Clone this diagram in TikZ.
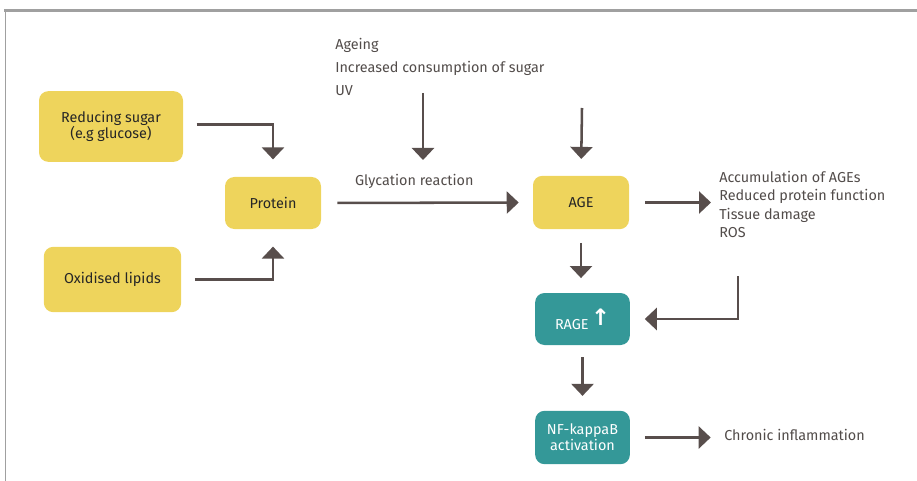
\documentclass[tikz,border=0pt]{standalone}
\usepackage{fontspec}
\setmainfont{Fira Sans}
\newfontfamily\symfont{DejaVu Sans}
\usetikzlibrary{arrows.meta, positioning}
\definecolor{agyellow}{RGB}{238, 212, 92}
\definecolor{agteal}{RGB}{52, 152, 152}
\definecolor{agarrow}{RGB}{88, 78, 76}
\definecolor{agtext}{RGB}{82, 76, 74}
\definecolor{agframe}{RGB}{160, 160, 160}

\tikzset{
  ybox/.style={fill=agyellow, rounded corners=7pt, text=black!85, align=center, inner sep=0pt, font=\fontsize{10.8}{12}\selectfont},
  tbox/.style={fill=agteal, rounded corners=7pt, text=white, align=center, inner sep=0pt, font=\fontsize{10.8}{12}\selectfont},
  arr/.style={draw=agarrow, line width=1.9pt, -{Triangle[width=16.5pt,length=9pt]}},
  lbl/.style={text=agtext, align=left, inner sep=0pt, font=\fontsize{10.8}{12}\selectfont}
}

\begin{document}
\begin{tikzpicture}[x=0.75pt, y=-0.75pt]
\useasboundingbox (0,0) rectangle (917,481);

% frame
\draw[agframe, line width=1.6pt] (4,10.5) -- (917,10.5);
\draw[agframe, line width=0.6pt] (5,10) -- (5,481);

% boxes
\node[ybox, minimum width=108pt, minimum height=53pt] (sugar) at (111,126.5) {Reducing sugar\\(e.g glucose)};
\node[ybox, minimum width=103pt, minimum height=49pt] (lipids) at (112.5,279.5) {Oxidised lipids};
\node[ybox, minimum width=72pt, minimum height=39pt] (protein) at (273,203) {Protein};
\node[ybox, minimum width=72pt, minimum height=40pt] (age) at (581,202.5) {AGE};
\node[tbox, minimum width=71pt, minimum height=39pt] (rage) at (582.5,319) {\raisebox{-3pt}{RAGE}\,{\symfont\bfseries\fontsize{17}{17}\selectfont ↑}};
\node[tbox, minimum width=71pt, minimum height=40pt] (nfkb) at (582.5,437.5) {NF-kappaB\\activation};

% texts
\node[lbl, anchor=west, font=\fontsize{10.8}{17.6}\selectfont] (causes) at (335,67) {Ageing\\Increased consumption of sugar\\UV};
\node[lbl, anchor=west, font=\fontsize{10.8}{13.7}\selectfont] (effects) at (719,204.5) {Accumulation of AGEs\\Reduced protein function\\Tissue damage\\ROS};
\node[lbl, anchor=west] (chronic) at (724,435) {Chronic inflammation};

\coordinate (causesEnd) at (423,93);
\coordinate (glycIn) at (423,160);
\coordinate (ageIn) at (582,108);
\coordinate (back) at (738,276);

% arrows
\draw[arr, shorten <=10pt, shorten >=13pt] ([yshift=1.5pt]sugar.east) -| (protein.north);
\draw[arr, shorten <=10pt, shorten >=13pt] (lipids.east) -| (protein.south);
\draw[arr, shorten <=12pt, shorten >=10.5pt] (protein.east) -- (age.west)
  node[lbl, above=10pt, pos=0.44] (glyc) {Glycation reaction};
\draw[arr] (causesEnd) -- (glycIn);
\draw[arr, shorten >=12.5pt] (ageIn) -- (age.north);
\draw[arr, shorten <=12pt, shorten >=6pt] (age.east) -- (age.east -| effects.west);
\draw[arr, shorten <=10pt, shorten >=11pt] (age.south) -- (age.south |- rage.north);
\draw[arr, shorten >=11pt] (back) |- (rage.east);
\draw[arr, shorten <=9pt, shorten >=11pt] (rage.south) -- (rage.south |- nfkb.north);
\draw[arr, shorten <=11pt, shorten >=10pt] (nfkb.east) -- (nfkb.east -| chronic.west);
\end{tikzpicture}
\end{document}
